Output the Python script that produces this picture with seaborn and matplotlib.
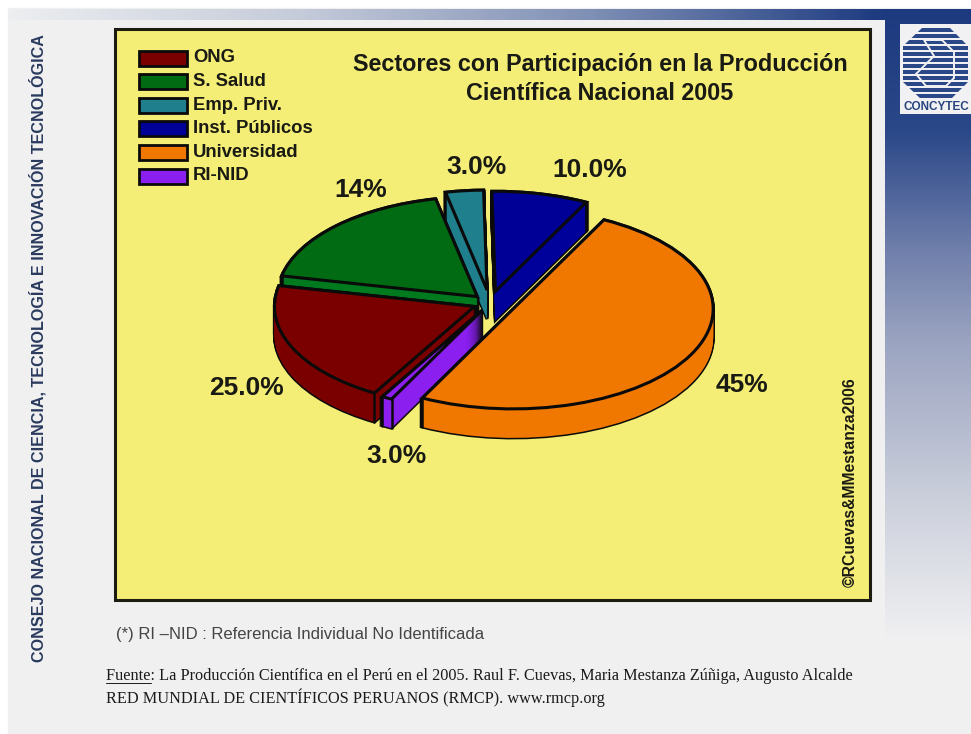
import numpy as np
import matplotlib
matplotlib.use("Agg")
import matplotlib.pyplot as plt
from matplotlib.colors import LinearSegmentedColormap
from matplotlib.patches import Polygon, Rectangle
import seaborn as sns

sns.set_theme(style="white")
plt.rcParams['font.family'] = ['Liberation Sans', 'DejaVu Sans']

sectores = ["ONG", "S. Salud", "Emp. Priv.", "Inst. Públicos", "Universidad", "RI-NID"]
etiquetas = ["25.0%", "14%", "3.0%", "10.0%", "45%", "3.0%"]
# tamano aparente de cada porcion en la imagen (no coincide con las etiquetas)
porciones = [72, 66, 11, 28, 180, 3]
separacion = [0.085, 0.09, 0.13, 0.12, 0.13, 0.08]
colores = ["#7a0000", "#006b12", "#1f7f8c", "#000096", "#f07800", "#8a1ff0"]
colores_lado = ["#7a0000", "#007a1e", "#1f7f8c", "#00009a", "#f07800", "#8a1ff0"]
orden_fondo = [3, 2, 1, 0, 5, 4]

W, H = 971, 734
ANG_INI = 240
# centro y semiejes de la elipse en pixeles
CX, CY, RX, RY = 490, 303, 200, 100
PROF = 29

fig = plt.figure(figsize=(W / 100, H / 100), dpi=100)


def px_rect(x0, y0, x1, y1):
    return [x0 / W, 1 - y1 / H, (x1 - x0) / W, (y1 - y0) / H]


# fondo de la diapositiva
fondo = fig.add_axes([0, 0, 1, 1], zorder=0)
fondo.axis("off")
azul = LinearSegmentedColormap.from_list("az", [(0, "#1d3a80"), (0.19, "#2a4788"), (0.38, "#6f7fab"),
                                                (0.525, "#9aa3c0"), (0.78, "#ccd0dc"), (1, "#f0f0f2")])
grad = np.linspace(0, 1, 256).reshape(-1, 1)
fondo.add_patch(Rectangle((0, 0), W, H, color="white", zorder=0))
fondo.add_patch(Rectangle((8, 8), W, H, color="#f0f0f1", zorder=0))
fondo.imshow(grad, extent=[885, W, 640, 9], cmap=azul, aspect="auto", zorder=1)
banda = LinearSegmentedColormap.from_list("ban", ["#eceef0", "#c5cbd9", "#7f8fb5", "#1d3a80"])
fondo.imshow(np.linspace(0, 1, 256).reshape(1, -1), extent=[8, 885, 20, 9], cmap=banda, aspect="auto", zorder=1)
fondo.set_xlim(0, W)
fondo.set_ylim(H, 0)
fondo.add_patch(Rectangle((115, 29), 755, 571, facecolor="#f4ee76", edgecolor="#1c1c10", lw=2.2, zorder=2))

# logo
fondo.add_patch(Rectangle((900, 24), 71, 90, facecolor="#f1f1f3", edgecolor="none", zorder=3))
octo = Polygon([[922, 28], [950, 28], [968, 46], [968, 82], [950, 100], [922, 100], [903, 82], [903, 46]],
               closed=True, facecolor="none", edgecolor="none", zorder=4)
fondo.add_patch(octo)
for y in np.arange(28, 100, 6):
    r = fondo.add_patch(Rectangle((900, y), 71, 4, facecolor="#2a4788", edgecolor="none", zorder=4))
    r.set_clip_path(octo)
fondo.add_patch(Polygon([[924, 40], [942, 40], [954, 52], [954, 78], [946, 86], [926, 86], [916, 74], [934, 56]],
                        closed=True, facecolor="none", edgecolor="#f1f1f3", lw=1.4, zorder=5))
fondo.text(904, 107, "CONCYTEC", color="#27457f", fontsize=8.5, fontweight="bold", ha="left", va="center", zorder=5)

# torta
ax = fig.add_axes(px_rect(115, 29, 870, 600), zorder=1)
ax.patch.set_alpha(0)


def pastel(dy, caras, **kw):
    w, _ = ax.pie(porciones, explode=separacion, colors=caras, startangle=ANG_INI, counterclock=False,
                  radius=1, center=(0, dy), wedgeprops=kw)
    return w


niveles = np.arange(PROF + 1)
for n in niveles:
    dy = -n / RY
    negros = pastel(dy, ["#0a0a0a"] * 6, edgecolor="#0a0a0a", linewidth=2.2)
    caras = pastel(dy, colores_lado, linewidth=0, edgecolor="none")
    for i, pos in enumerate(orden_fondo):
        negros[pos].set_zorder(10 + i * 10)
        caras[pos].set_zorder(11 + i * 10)

arriba = pastel(0, colores, edgecolor="#0a0a0a", linewidth=2.2)
for i, pos in enumerate(orden_fondo):
    w = arriba[pos]
    w.set_zorder(13 + i * 10)
    cx, cy = w.center
    # aristas verticales de cada porcion
    for a in (w.theta1, w.theta2):
        xa = cx + np.cos(np.radians(a))
        ya = cy + np.sin(np.radians(a))
        ax.plot([xa, xa], [ya, ya - PROF / RY], color="#0a0a0a", lw=1.8, zorder=12 + i * 10)

ax.set_aspect("auto")
ax.set_xlim((115 - CX) / RX, (870 - CX) / RX)
ax.set_ylim((CY - 600) / RY, (CY - 29) / RY)
ax.axis("off")

# textos de la torta
pos_etiq = [(246, 388), (361, 190), (476, 167), (590, 170), (742, 385), (396, 456)]
for t, (x, y) in zip(etiquetas, pos_etiq):
    fondo.text(x, y, t, fontsize=19, fontweight="bold", color="#1a1a14", ha="center", va="center", zorder=6)

fondo.text(600, 64, "Sectores con Participación en la Producción", fontsize=16.8, fontweight="bold",
           color="#1a1a14", ha="center", va="center", zorder=6)
fondo.text(600, 93, "Científica Nacional 2005", fontsize=16.8, fontweight="bold",
           color="#1a1a14", ha="center", va="center", zorder=6)

# leyenda
for i, (s, c) in enumerate(zip(sectores, colores)):
    y = 58 + i * 23.6
    fondo.add_patch(Rectangle((139, y - 7.5), 48, 15, facecolor=c, edgecolor="#0a0a0a", lw=2, zorder=6))
    fondo.text(193, y, s, fontsize=13.3, fontweight="bold", color="#1a1a14", ha="left", va="center", zorder=6)

fondo.text(850, 482, "©RCuevas&MMestanza2006", rotation=90, fontsize=11.3, fontweight="bold", color="#1a1a14",
           ha="center", va="center", zorder=6)
fondo.text(38, 348, "CONSEJO NACIONAL DE CIENCIA, TECNOLOGÍA E INNOVACIÓN TECNOLÓGICA", rotation=90,
           fontsize=11.6, fontweight="bold", color="#2a3a5e", ha="center", va="center", zorder=6)
fondo.text(116, 635, "(*) RI –NID : Referencia Individual No Identificada", fontsize=12, color="#444444",
           ha="left", va="center", zorder=6)
serif = ['Liberation Serif', 'DejaVu Serif']
t1 = fondo.text(106, 676, "Fuente", fontsize=11.67, family=serif, color="#1a1a1a", ha="left", va="center", zorder=6)
fondo.text(106, 676, "Fuente: La Producción Científica en el Perú en el 2005. Raul F. Cuevas, Maria Mestanza Zúñiga, Augusto Alcalde",
           fontsize=11.67, family=serif, color="#1a1a1a", ha="left", va="center", zorder=6)
fondo.text(106, 698, "RED MUNDIAL DE CIENTÍFICOS PERUANOS (RMCP). www.rmcp.org", fontsize=11.67, family=serif,
           color="#1a1a1a", ha="left", va="center", zorder=6)
fig.canvas.draw()
bb = t1.get_window_extent()
t1.set_visible(False)
fondo.plot([106, 106 + bb.width], [683, 683], color="#1a1a1a", lw=0.7, zorder=6)

fig.savefig("out.png", dpi=100)
